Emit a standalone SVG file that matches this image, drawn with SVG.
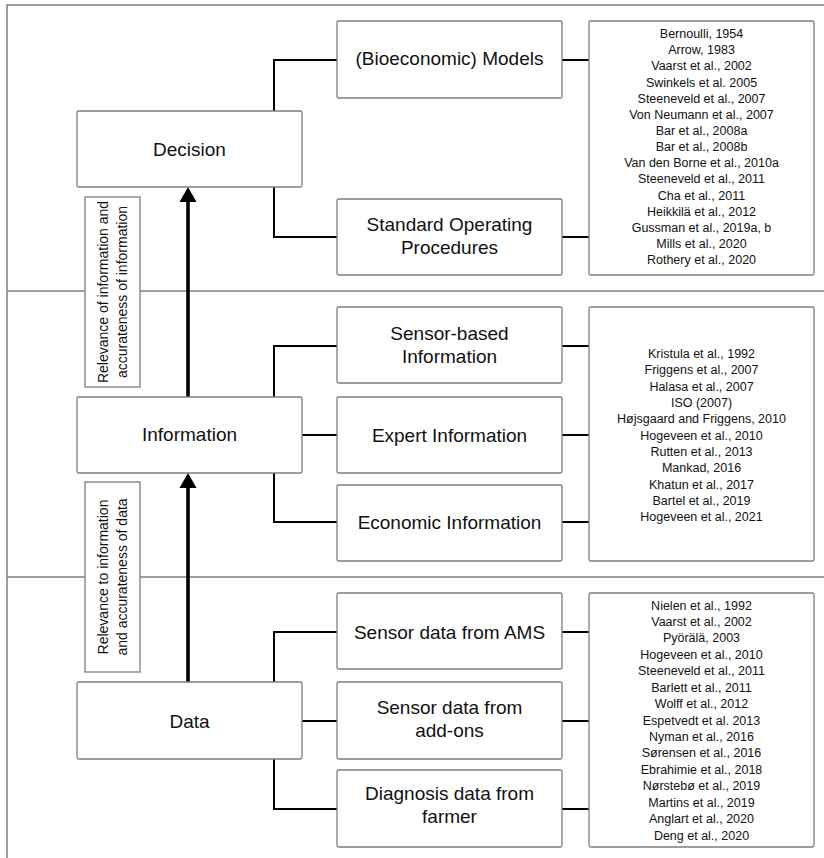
<svg xmlns="http://www.w3.org/2000/svg" width="824" height="858" viewBox="0 0 824 858">
<style>
.bg{fill:#ffffff}
.frame{fill:none;stroke:#808080;stroke-width:1.5}
.box{fill:#ffffff;stroke:#7f7f7f;stroke-width:1.3}
.conn{fill:none;stroke:#000000;stroke-width:2}
.arrow{fill:none;stroke:#000000;stroke-width:3.6}
.main{font-family:"Liberation Sans",Arial,sans-serif;font-size:19px;fill:#111111;text-anchor:middle}
.ref{font-family:"Liberation Sans",Arial,sans-serif;font-size:12.5px;fill:#111111;text-anchor:middle}
.lab{font-family:"Liberation Sans",Arial,sans-serif;font-size:14px;fill:#111111;text-anchor:middle}
</style>
<defs>
<marker id="up" markerUnits="userSpaceOnUse" markerWidth="18" markerHeight="16" viewBox="0 0 18 16" refX="9" refY="13" orient="0">
<path d="M9,0 L17.5,15 L0.5,15 Z" fill="#000000"/>
</marker>
</defs>
<rect class="bg" x="0" y="0" width="824" height="858"/>
<g id="frame">
<path class="frame" d="M7,858 V5 H824"/>
<line class="frame" x1="7" y1="291" x2="824" y2="291"/>
<line class="frame" x1="7" y1="577" x2="824" y2="577"/>
</g>
<g id="connectors">
<path class="conn" d="M337,60 H274 V111"/>
<path class="conn" d="M274,187 V237 H337"/>
<path class="conn" d="M562,60 H589"/>
<path class="conn" d="M562,237 H589"/>
<path class="conn" d="M337,346 H274 V397"/>
<path class="conn" d="M302,435 H337"/>
<path class="conn" d="M274,473 V522 H337"/>
<path class="conn" d="M562,346 H589"/>
<path class="conn" d="M562,435 H589"/>
<path class="conn" d="M562,522 H589"/>
<path class="conn" d="M337,632 H274 V682"/>
<path class="conn" d="M302,721 H337"/>
<path class="conn" d="M274,759 V809 H337"/>
<path class="conn" d="M562,632 H589"/>
<path class="conn" d="M562,721 H589"/>
<path class="conn" d="M562,809 H589"/>
<path class="arrow" d="M188,397 V200" marker-end="url(#up)"/>
<path class="arrow" d="M188,682 V486" marker-end="url(#up)"/>
</g>
<g id="label-decision-information">
<rect class="box" x="85" y="197" width="55" height="190"/>
<text class="lab" transform="translate(107.5,292) rotate(-90)"><tspan x="0" y="0">Relevance of information and</tspan><tspan x="0" y="19.5">accurateness of information</tspan></text>
</g>
<g id="label-information-data">
<rect class="box" x="85" y="482" width="55" height="190"/>
<text class="lab" transform="translate(107.5,577) rotate(-90)"><tspan x="0" y="0">Relevance to information</tspan><tspan x="0" y="19.5">and accurateness of data</tspan></text>
</g>
<g id="decision">
<rect class="box" x="77" y="111" width="225" height="76" rx="1.5"/>
<text class="main" x="189.5" y="155.8">Decision</text>
</g>
<g id="models">
<rect class="box" x="337" y="21" width="225" height="77" rx="1.5"/>
<text class="main" x="449.5" y="65">(Bioeconomic) Models</text>
</g>
<g id="sop">
<rect class="box" x="337" y="199" width="225" height="76" rx="1.5"/>
<text class="main" x="449.5" y="230.8">Standard Operating</text>
<text class="main" x="449.5" y="253.5">Procedures</text>
</g>
<g id="refs-decision">
<rect class="box" x="589" y="21" width="225" height="254" rx="1.5"/>
<text class="ref" x="701.5" y="38">Bernoulli, 1954</text>
<text class="ref" x="701.5" y="54.2">Arrow, 1983</text>
<text class="ref" x="701.5" y="70.3">Vaarst et al., 2002</text>
<text class="ref" x="701.5" y="86.5">Swinkels et al. 2005</text>
<text class="ref" x="701.5" y="102.6">Steeneveld et al., 2007</text>
<text class="ref" x="701.5" y="118.8">Von Neumann et al., 2007</text>
<text class="ref" x="701.5" y="134.9">Bar et al., 2008a</text>
<text class="ref" x="701.5" y="151.1">Bar et al., 2008b</text>
<text class="ref" x="701.5" y="167.2">Van den Borne et al., 2010a</text>
<text class="ref" x="701.5" y="183.4">Steeneveld et al., 2011</text>
<text class="ref" x="701.5" y="199.5">Cha et al., 2011</text>
<text class="ref" x="701.5" y="215.7">Heikkilä et al., 2012</text>
<text class="ref" x="701.5" y="231.8">Gussman et al., 2019a, b</text>
<text class="ref" x="701.5" y="248">Mills et al., 2020</text>
<text class="ref" x="701.5" y="264.1">Rothery et al., 2020</text>
</g>
<g id="information">
<rect class="box" x="77" y="397" width="225" height="76" rx="1.5"/>
<text class="main" x="189.5" y="441">Information</text>
</g>
<g id="sensor-based">
<rect class="box" x="337" y="307" width="225" height="76" rx="1.5"/>
<text class="main" x="449.5" y="340">Sensor-based</text>
<text class="main" x="449.5" y="362.5">Information</text>
</g>
<g id="expert">
<rect class="box" x="337" y="397" width="225" height="76" rx="1.5"/>
<text class="main" x="449.5" y="441.8">Expert Information</text>
</g>
<g id="economic">
<rect class="box" x="337" y="485" width="225" height="76" rx="1.5"/>
<text class="main" x="449.5" y="529">Economic Information</text>
</g>
<g id="refs-information">
<rect class="box" x="589" y="307" width="225" height="254" rx="1.5"/>
<text class="ref" x="701.5" y="357.8">Kristula et al., 1992</text>
<text class="ref" x="701.5" y="374.1">Friggens et al., 2007</text>
<text class="ref" x="701.5" y="390.5">Halasa et al., 2007</text>
<text class="ref" x="701.5" y="406.8">ISO (2007)</text>
<text class="ref" x="701.5" y="423.2">Højsgaard and Friggens, 2010</text>
<text class="ref" x="701.5" y="439.5">Hogeveen et al., 2010</text>
<text class="ref" x="701.5" y="455.8">Rutten et al., 2013</text>
<text class="ref" x="701.5" y="472.2">Mankad, 2016</text>
<text class="ref" x="701.5" y="488.5">Khatun et al., 2017</text>
<text class="ref" x="701.5" y="504.9">Bartel et al., 2019</text>
<text class="ref" x="701.5" y="521.2">Hogeveen et al., 2021</text>
</g>
<g id="data">
<rect class="box" x="77" y="682" width="225" height="77" rx="1.5"/>
<text class="main" x="189.5" y="727.5">Data</text>
</g>
<g id="sensor-ams">
<rect class="box" x="337" y="593" width="225" height="76" rx="1.5"/>
<text class="main" x="449.5" y="638.5">Sensor data from AMS</text>
</g>
<g id="sensor-addons">
<rect class="box" x="337" y="682" width="225" height="77" rx="1.5"/>
<text class="main" x="449.5" y="713.5">Sensor data from</text>
<text class="main" x="449.5" y="736.8">add-ons</text>
</g>
<g id="diagnosis">
<rect class="box" x="337" y="770" width="225" height="77" rx="1.5"/>
<text class="main" x="449.5" y="800">Diagnosis data from</text>
<text class="main" x="449.5" y="822.8">farmer</text>
</g>
<g id="refs-data">
<rect class="box" x="589" y="593" width="225" height="254" rx="1.5"/>
<text class="ref" x="701.5" y="609.5">Nielen et al., 1992</text>
<text class="ref" x="701.5" y="625.9">Vaarst et al., 2002</text>
<text class="ref" x="701.5" y="642.4">Pyörälä, 2003</text>
<text class="ref" x="701.5" y="658.8">Hogeveen et al., 2010</text>
<text class="ref" x="701.5" y="675.2">Steeneveld et al., 2011</text>
<text class="ref" x="701.5" y="691.7">Barlett et al., 2011</text>
<text class="ref" x="701.5" y="708.1">Wolff et al., 2012</text>
<text class="ref" x="701.5" y="724.5">Espetvedt et al. 2013</text>
<text class="ref" x="701.5" y="740.9">Nyman et al., 2016</text>
<text class="ref" x="701.5" y="757.4">Sørensen et al., 2016</text>
<text class="ref" x="701.5" y="773.8">Ebrahimie et al., 2018</text>
<text class="ref" x="701.5" y="790.2">Nørstebø et al., 2019</text>
<text class="ref" x="701.5" y="806.7">Martins et al., 2019</text>
<text class="ref" x="701.5" y="823.1">Anglart et al., 2020</text>
<text class="ref" x="701.5" y="839.5">Deng et al., 2020</text>
</g>
</svg>
